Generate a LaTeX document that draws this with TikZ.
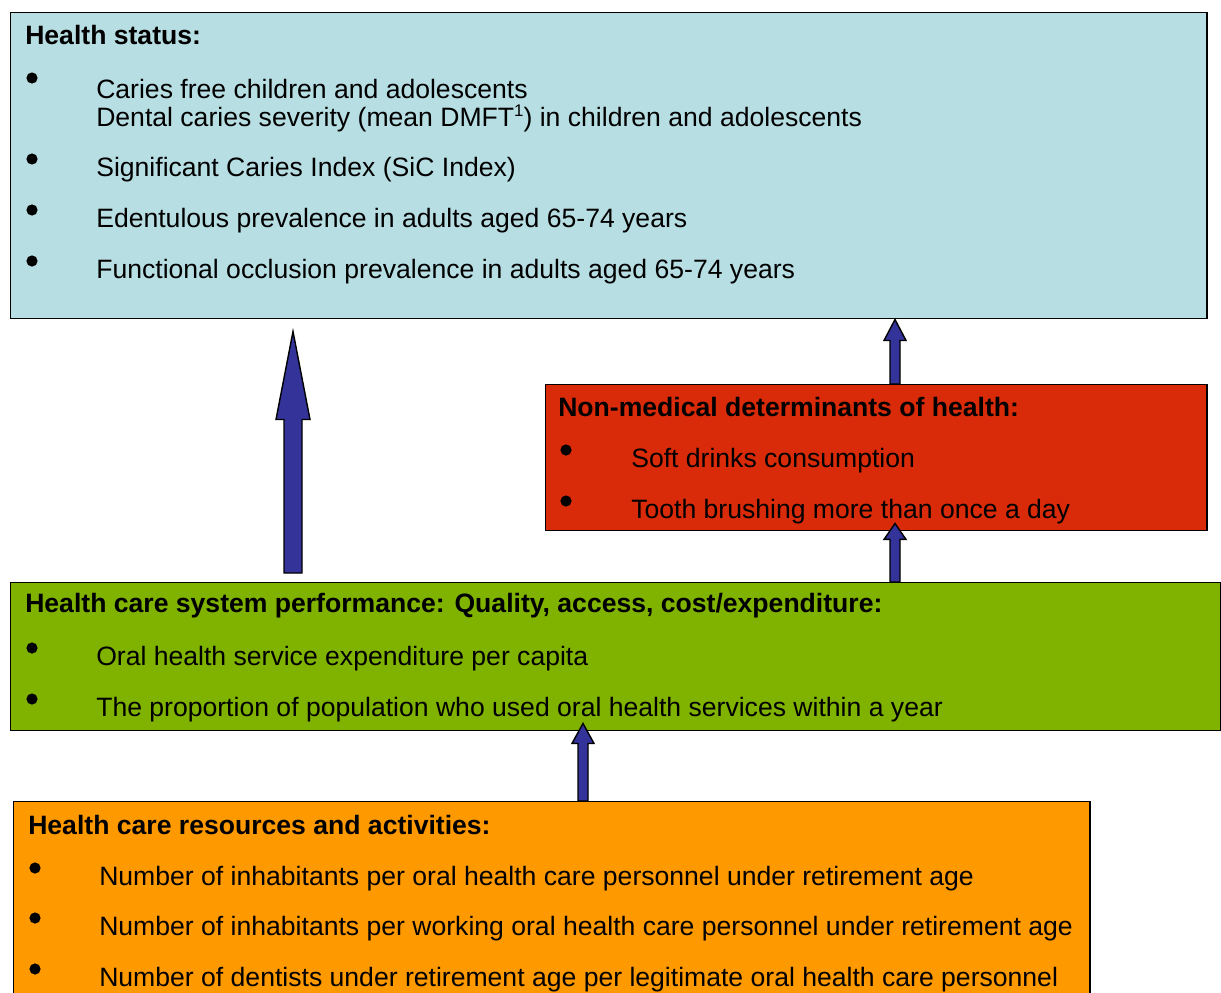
\documentclass[tikz,border=0pt]{standalone}
\usepackage{fontspec}
\setmainfont{Liberation Sans}
\usetikzlibrary{calc}
\definecolor{statusBg}{RGB}{183,222,227}
\definecolor{determBg}{RGB}{217,43,10}
\definecolor{systemBg}{RGB}{128,178,0}
\definecolor{resourceBg}{RGB}{255,153,0}
\definecolor{arrowBlue}{RGB}{51,51,153}
\newcommand{\boxfont}{\fontsize{18.9}{22}\selectfont}
% block arrow pointing up: base, tip, half shaft, half head, head length
\newcommand{\fatup}[5]{%
  \filldraw[fatarrow] ($(#1)+(-#3,0)$) -- ($(#2)+(-#3,#5)$) -- ($(#2)+(-#4,#5)$)
    -- (#2) -- ($(#2)+(#4,#5)$) -- ($(#2)+(#3,#5)$) -- ($(#1)+(#3,0)$) -- cycle;}

\begin{document}
\begin{tikzpicture}[x=0.025cm, y=-0.025cm,
  panel/.style={draw=black, line width=1pt, anchor=north west, inner sep=0pt},
  heading/.style={anchor=west, inner sep=0pt, font=\boxfont\bfseries},
  item/.style={anchor=west, inner sep=0pt, font=\boxfont},
  dot/.style={circle, fill=black, inner sep=0pt, minimum size=0.28cm},
  fatarrow/.style={fill=arrowBlue, draw=black, line width=1pt, line join=miter}]
  \useasboundingbox (0,0) rectangle (1221,992);

  % Health status
  \node[panel, fill=statusBg, minimum width=29.9cm, minimum height=7.65cm] (status) at (10,12) {};
  \node[heading] (status-head) at (25,35) {Health status:};
  \foreach \i/\y/\txt in {1/89/Caries free children and adolescents,
      2/170/Significant Caries Index (SiC Index),
      3/221/Edentulous prevalence in adults aged 65-74 years,
      4/272/Functional occlusion prevalence in adults aged 65-74 years} {
    \node[dot] (status-dot-\i) at (32,\y-11) {};
    \node[item] (status-\i) at (96,\y) {\txt};
  }
  \node[item] (status-1b) at (96,120) {Dental caries severity (mean DMFT\smash{\raisebox{7.5pt}{\fontsize{12}{12}\selectfont 1}}) in children and adolescents};

  % Non-medical determinants
  \node[panel, fill=determBg, minimum width=16.525cm, minimum height=3.65cm] (determ) at (545,384) {};
  \node[heading] (determ-head) at (558,407) {Non-medical determinants of health:};
  \foreach \i/\y/\txt in {1/461/Soft drinks consumption,
      2/512/Tooth brushing more than once a day} {
    \node[dot] (determ-dot-\i) at (566,\y-11) {};
    \node[item] (determ-\i) at (631,\y) {\txt};
  }

  % Health care system performance
  \node[panel, fill=systemBg, minimum width=30.25cm, minimum height=3.7cm] (perf) at (10,582) {};
  \node[heading] (perf-head) at (25,606) {Health care system performance: Quality, access, cost/expenditure:};
  \foreach \i/\y/\txt in {1/659/Oral health service expenditure per capita,
      2/710/The proportion of population who used oral health services within a year} {
    \node[dot] (perf-dot-\i) at (32,\y-11) {};
    \node[item] (perf-\i) at (96,\y) {\txt};
  }

  % Health care resources and activities
  \node[panel, fill=resourceBg, minimum width=26.9cm, minimum height=5.5cm] (res) at (13,801) {};
  \node[heading] (res-head) at (28,825) {Health care resources and activities:};
  \foreach \i/\y/\txt in {1/879/Number of inhabitants per oral health care personnel under retirement age,
      2/929/Number of inhabitants per working oral health care personnel under retirement age,
      3/980/Number of dentists under retirement age per legitimate oral health care personnel} {
    \node[dot] (res-dot-\i) at (35,\y-11) {};
    \node[item] (res-\i) at (99,\y) {\txt};
  }

  % arrows between the panels
  \coordinate (leftx) at (293,0);
  \coordinate (rightx) at (895,0);
  \coordinate (midx) at (583,0);
  \coordinate (big-base) at ($(perf.north -| leftx)+(0,-9)$);
  \coordinate (big-tip) at ($(status.south -| leftx)+(0,12)$);
  \coordinate (perf-tip) at ($(perf.south -| midx)+(0,-8)$);
  \coordinate (determ-tip) at ($(determ.south -| rightx)+(0,-8)$);
  \fatup{big-base}{big-tip}{9}{17}{88}
  \fatup{determ.north -| rightx}{status.south -| rightx}{5}{11}{21}
  \fatup{perf.north -| rightx}{determ-tip}{5}{11}{16}
  \fatup{res.north -| midx}{perf-tip}{5}{11}{20}
\end{tikzpicture}
\end{document}
